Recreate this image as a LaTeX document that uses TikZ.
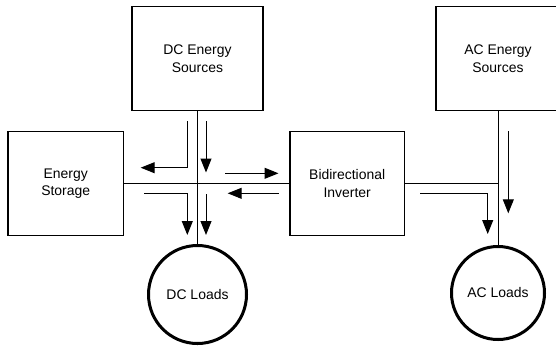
\documentclass[tikz,border=0pt]{standalone}
\usepackage{fontspec}
\setmainfont{Liberation Sans}
\usetikzlibrary{arrows.meta}
\begin{document}
\begin{tikzpicture}[x=1bp,y=-1bp,
  box/.style={draw, line width=1.5bp, rectangle, inner sep=0pt, align=center,
    font=\fontsize{14}{17.5}\selectfont},
  load/.style={draw, line width=3bp, circle, inner sep=0pt, align=center,
    font=\fontsize{14}{17.5}\selectfont},
  bus/.style={line width=1bp},
  flow/.style={line width=1bp, -{Triangle[length=14bp,width=11bp]}}]
\useasboundingbox (0,0) rectangle (556,346);
\clip (0,0) rectangle (556,346);
\node[box, minimum width=131bp, minimum height=104bp] (dcs) at (197.5,58.7) {DC Energy\\Sources};
\node[box, minimum width=124bp, minimum height=104bp] (acs) at (498,58.7) {AC Energy\\Sources};
\node[box, minimum width=115.5bp, minimum height=104bp] (es) at (65.7,183.5) {Energy\\Storage};
\node[box, minimum width=114.5bp, minimum height=104bp] (inv) at (347.2,183.5) {Bidirectional\\Inverter};
\node[load, minimum size=98bp] (dcl) at (197.5,294.5) {DC Loads};
\node[load, minimum size=93bp] (acl) at (498,293) {AC Loads};
% buses
\draw[bus] (es.east) -- (inv.west);
\draw[bus] (dcs.south) -- (dcl.north);
\draw[bus] (acs.south) -- (acl.north);
\draw[bus] (inv.east) -- (inv.east -| acs.south);
% flow arrows
\coordinate (a1s) at (187.3,121);
\coordinate (a1e) at (140.7,167.7);
\draw[flow] (a1s) |- (a1e);
\coordinate (a2s) at (206,121);
\coordinate (a2e) at (206,172.5);
\draw[flow] (a2s) -- (a2e);
\coordinate (a3s) at (225.3,173.3);
\coordinate (a3e) at (278.5,173.3);
\draw[flow] (a3s) -- (a3e);
\coordinate (a4s) at (278.6,193.3);
\coordinate (a4e) at (227.7,193.3);
\draw[flow] (a4s) -- (a4e);
\coordinate (a5s) at (144.3,193.3);
\coordinate (a5e) at (187.3,235);
\draw[flow] (a5s) -| (a5e);
\coordinate (a6s) at (206,194);
\coordinate (a6e) at (206,235);
\draw[flow] (a6s) -- (a6e);
\coordinate (a7s) at (420,193.3);
\coordinate (a7e) at (487.7,234);
\draw[flow] (a7s) -| (a7e);
\coordinate (a8s) at (508.3,131);
\coordinate (a8e) at (508.3,213.3);
\draw[flow] (a8s) -- (a8e);
\end{tikzpicture}
\end{document}
